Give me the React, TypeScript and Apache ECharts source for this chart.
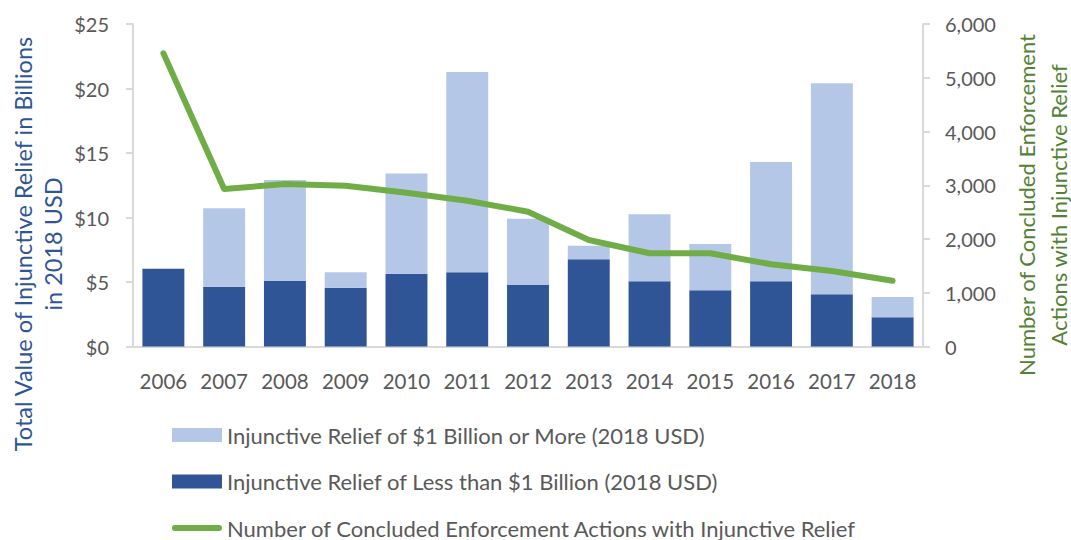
import React, { useEffect, useRef } from "react";
import * as echarts from "echarts";

const years = ["2006", "2007", "2008", "2009", "2010", "2011", "2012", "2013", "2014", "2015", "2016", "2017", "2018"];
const lessThan1B = [6.03, 4.64, 5.08, 4.56, 5.64, 5.75, 4.77, 6.76, 5.05, 4.36, 5.05, 4.05, 2.26];
const oneBOrMore = [0, 6.07, 7.83, 1.19, 7.78, 15.53, 5.14, 1.05, 5.2, 3.59, 9.25, 16.35, 1.58];
const actionCounts = [5455, 2930, 3023, 2992, 2862, 2713, 2508, 1981, 1734, 1734, 1529, 1405, 1224];
const leftTicks = { min: 0, max: 25, interval: 5 };
const rightTicks = { min: 0, max: 6000, interval: 1000 };

const NAME_BIG = "Injunctive Relief of $1 Billion or More (2018 USD)";
const NAME_SMALL = "Injunctive Relief of Less than $1 Billion (2018 USD)";
const NAME_LINE = "Number of Concluded Enforcement Actions with Injunctive Relief";

const FONT = "Lato, 'Open Sans', sans-serif";
const GRAY = "#595959";
const AXIS = "#D9D9D9";
const LINE_ICON = "path://M3,0 L47,0 A3,3 0 0 1 47,6 L3,6 A3,3 0 0 1 3,0 Z";

export default function App() {
  const ref = useRef<HTMLDivElement>(null);
  useEffect(() => {
    if (!ref.current) return;
    const chart = echarts.init(ref.current, null, { renderer: "svg" });
    chart.setOption({
      animation: false,
      backgroundColor: "#ffffff",
      textStyle: { fontFamily: FONT },
      grid: { left: 133, right: 148, top: 24, bottom: 193.5, containLabel: false },
      legend: {
        orient: "vertical",
        left: 172,
        top: 423,
        height: 200,
        itemWidth: 50,
        itemHeight: 14,
        itemGap: 22.5,
        padding: 0,
        symbolKeepAspect: true,
        data: [
          { name: NAME_BIG, icon: "rect" },
          { name: NAME_SMALL, icon: "rect" },
          { name: NAME_LINE, icon: LINE_ICON, itemStyle: { color: "#70AD47" } },
        ],
        textStyle: { color: GRAY, fontSize: 22, fontFamily: FONT, lineHeight: 24 },
        selectedMode: false,
      },
      xAxis: {
        type: "category",
        data: years,
        axisLine: { show: true, lineStyle: { color: AXIS, width: 2 } },
        axisTick: { show: false },
        axisLabel: { color: GRAY, fontSize: 20.5, margin: 24, fontFamily: FONT, interval: 0 },
      },
      yAxis: [
        {
          type: "value",
          min: leftTicks.min,
          max: leftTicks.max,
          interval: leftTicks.interval,
          splitLine: { show: false },
          axisLine: { show: true, lineStyle: { color: AXIS, width: 2 } },
          axisTick: { show: true, length: 7, lineStyle: { color: AXIS, width: 2 } },
          axisLabel: { color: GRAY, fontSize: 20, margin: 24, fontFamily: FONT, formatter: (v: number) => "$" + v },
        },
        {
          type: "value",
          min: rightTicks.min,
          max: rightTicks.max,
          interval: rightTicks.interval,
          position: "right",
          splitLine: { show: false },
          axisLine: { show: true, lineStyle: { color: AXIS, width: 2 } },
          axisTick: { show: true, length: 7, lineStyle: { color: AXIS, width: 2 } },
          axisLabel: {
            color: GRAY,
            fontSize: 20,
            margin: 22,
            fontFamily: FONT,
            formatter: (v: number) => v.toLocaleString("en-US"),
          },
        },
      ],
      graphic: [
        {
          type: "text",
          x: 38,
          y: 244,
          rotation: Math.PI / 2,
          style: {
            text: "Total Value of Injunctive Relief in Billions\nin 2018 USD",
            fill: "#2F5597",
            fontSize: 23.5,
            fontFamily: FONT,
            lineHeight: 30,
            align: "center",
            verticalAlign: "middle",
          },
        },
        {
          type: "text",
          x: 1042,
          y: 205,
          rotation: Math.PI / 2,
          style: {
            text: "Number of Concluded Enforcement\nActions with Injunctive Relief",
            fill: "#548235",
            fontSize: 22,
            fontFamily: FONT,
            lineHeight: 32,
            align: "center",
            verticalAlign: "middle",
          },
        },
      ],
      series: [
        {
          name: NAME_SMALL,
          type: "bar",
          stack: "total",
          data: lessThan1B,
          barCategoryGap: "31%",
          itemStyle: { color: "#2F5597" },
        },
        {
          name: NAME_BIG,
          type: "bar",
          stack: "total",
          data: oneBOrMore,
          barCategoryGap: "31%",
          itemStyle: { color: "#B4C7E7" },
        },
        {
          name: NAME_LINE,
          type: "line",
          yAxisIndex: 1,
          data: actionCounts,
          symbol: "none",
          showSymbol: false,
          lineStyle: { color: "#70AD47", width: 6, cap: "round", join: "round" },
          itemStyle: { color: "#70AD47" },
          z: 5,
        },
      ],
    });
    return () => chart.dispose();
  }, []);
  return <div ref={ref} style={{ position: "absolute", left: 0, top: 0, width: 1071, height: 540 }} />;
}
